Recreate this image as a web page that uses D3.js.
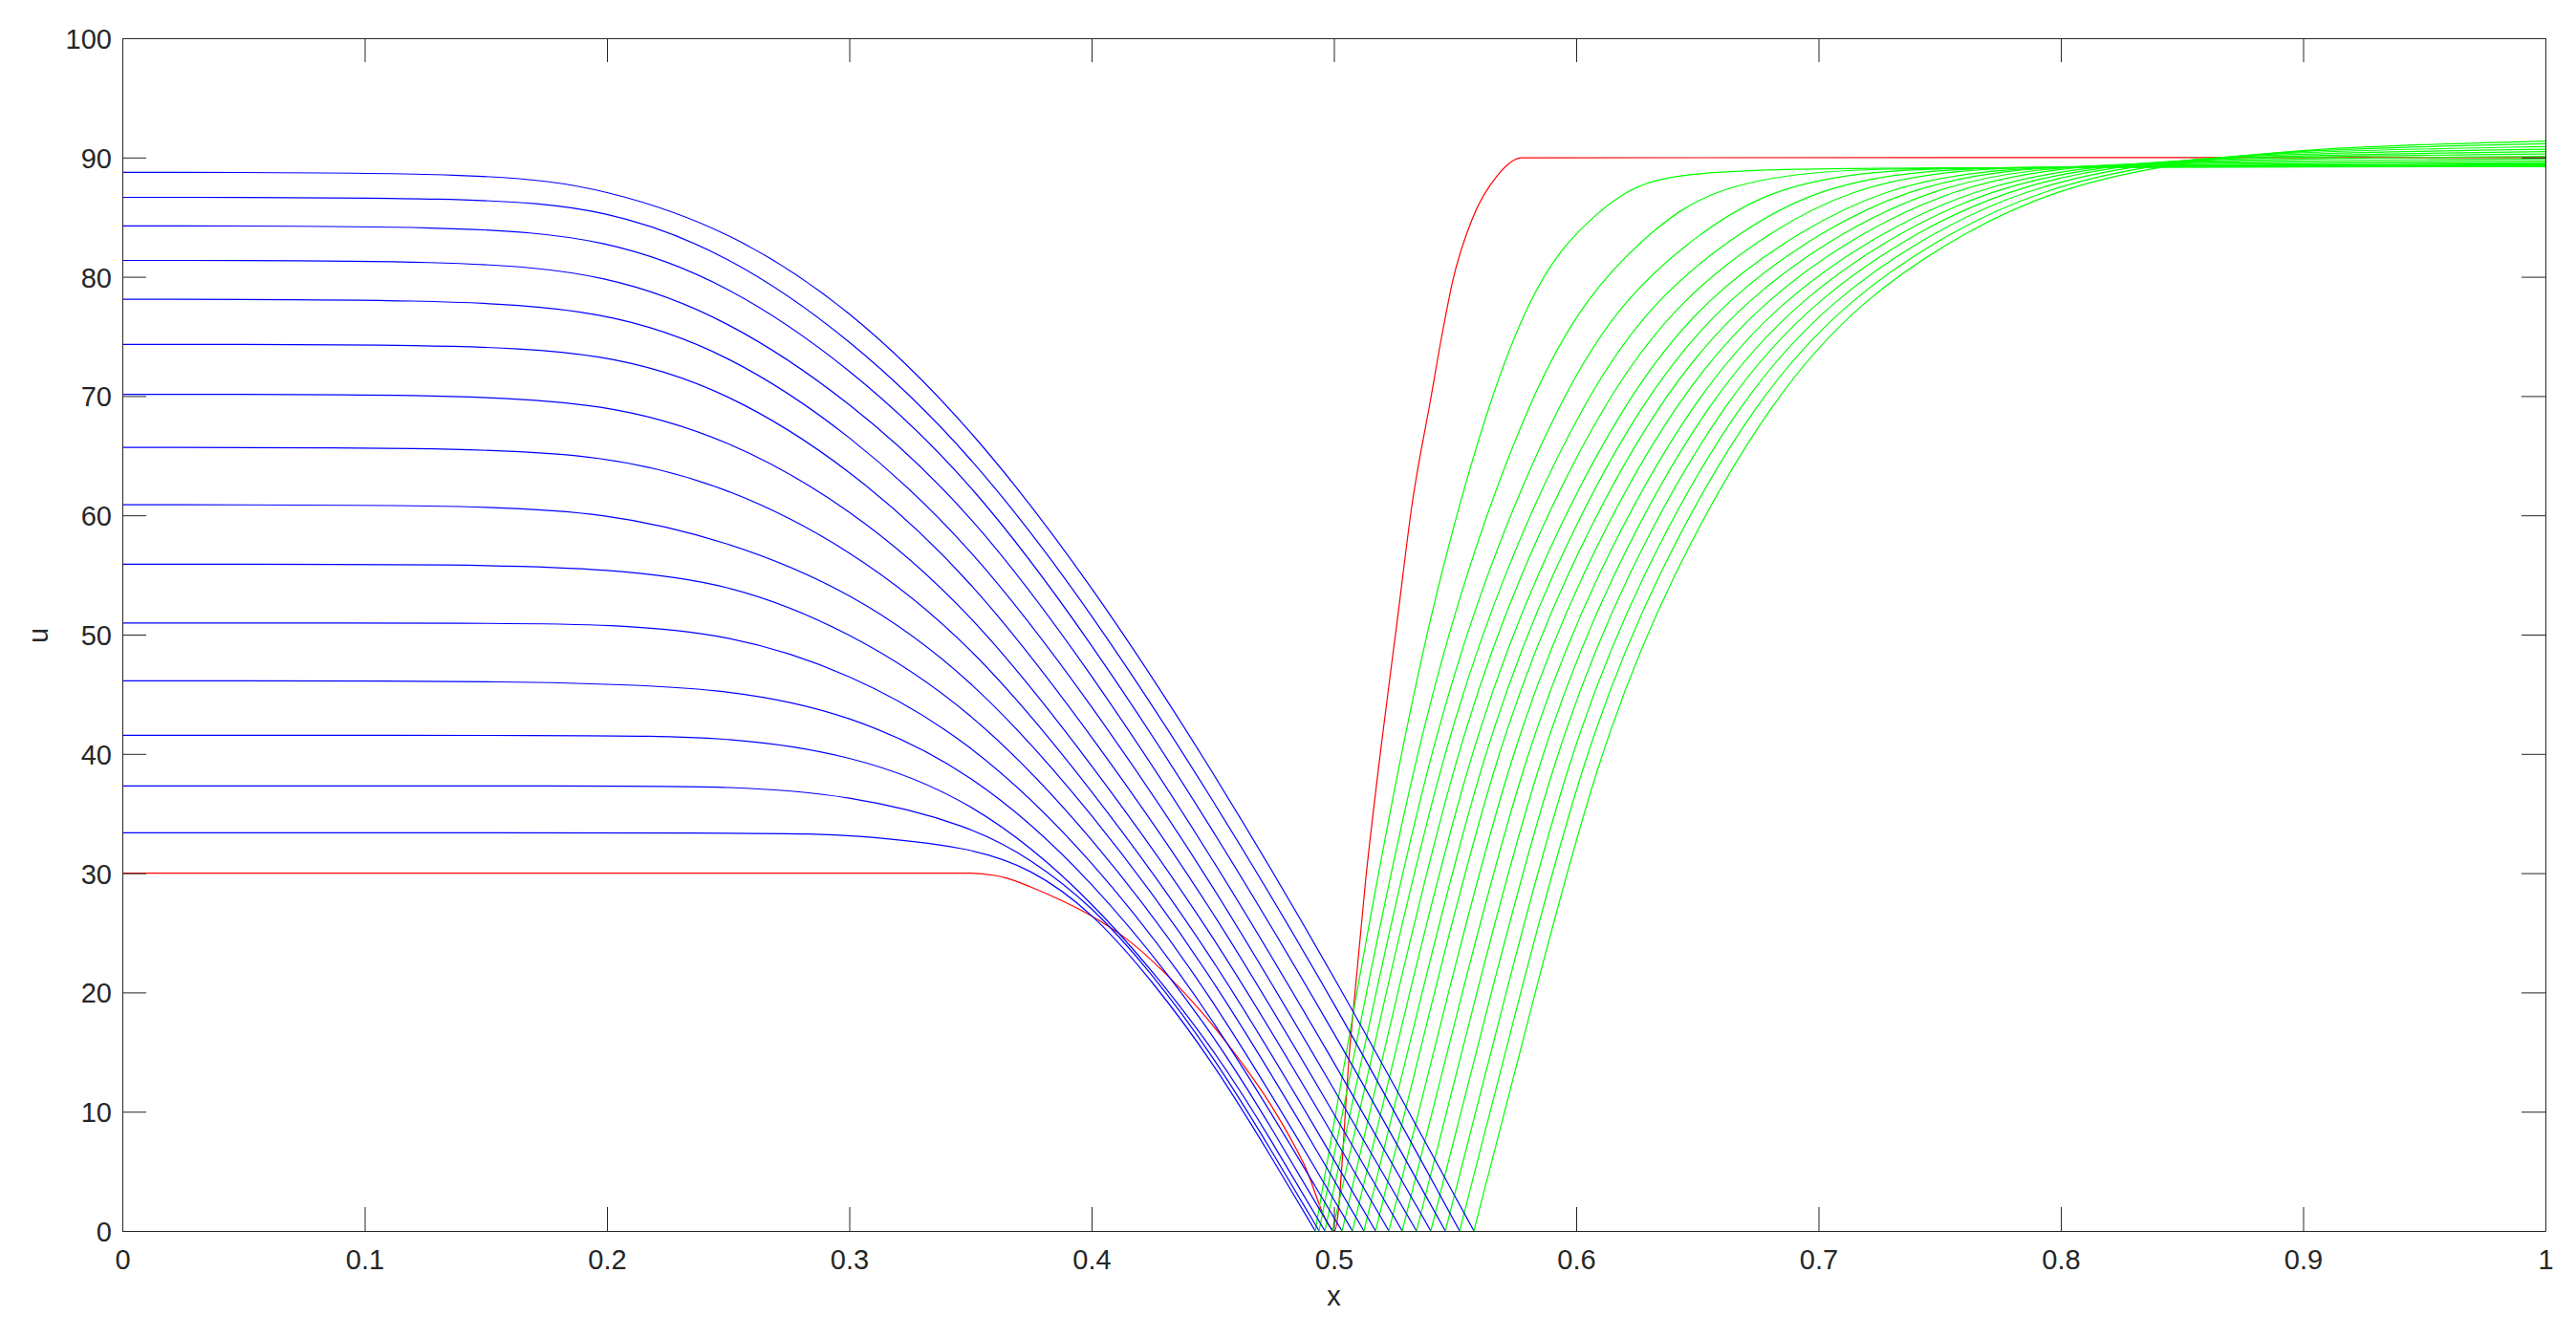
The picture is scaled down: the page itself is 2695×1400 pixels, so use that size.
<!DOCTYPE html>
<html><head><meta charset="utf-8">
<script src="https://cdn.jsdelivr.net/npm/d3@7"></script>
<style>
body{margin:0;background:#fff;}
svg{display:block;}
text{font-family:"Liberation Sans",Arial,Helvetica,sans-serif;}
</style>
</head><body>
<svg id="chart" width="2695" height="1400"></svg>
<script>
// ---- axis ticks ----
const xTicks = [0,0.1,0.2,0.3,0.4,0.5,0.6,0.7,0.8,0.9,1];
const xTickLabels = ["0","0.1","0.2","0.3","0.4","0.5","0.6","0.7","0.8","0.9","1"];
const yTicks = [0,10,20,30,40,50,60,70,80,90,100];
const yTickLabels = ["0","10","20","30","40","50","60","70","80","90","100"];
const xLabel = "x";
const yLabel = "u";

// ---- initial profile (red) ----
const redInitial = [[0,30],[0.350,30],[0.360,29.81],[0.365,29.58],[0.375,28.83],[0.3891,27.56],[0.4032,26.02],[0.4144,24.49],[0.4313,21.42],[0.4454,18.36],[0.4595,14.78],[0.4736,10.69],[0.4877,5.58],[0.499,0.2],[0.5003,0],[0.5067,15.65],[0.5131,29.41],[0.5196,40.76],[0.526,50.93],[0.5324,61.1],[0.5399,69.69],[0.5445,75.0],[0.5491,79.7],[0.557,84.8],[0.5675,88.5],[0.5774,89.98],[1,90]];

// ---- left phase (blue), time steps 1..15 ----
const blueT01 = [[0,33.39],[0.275,33.39],[0.30,33.22],[0.35,32.2],[0.375,30.4],[0.40,26.8],[0.425,21.0],[0.45,14.2],[0.475,5.95],[0.4923,0]];
const blueT02 = [[0,37.31],[0.20,37.31],[0.25,37.29],[0.30,36.6],[0.35,34.0],[0.375,31.2],[0.40,27.3],[0.425,21.6],[0.45,14.75],[0.475,6.5],[0.4939,0]];
const blueT03 = [[0,41.56],[0.19,41.56],[0.25,41.45],[0.30,40.0],[0.35,36.3],[0.40,28.1],[0.45,15.6],[0.475,7.3],[0.4963,0]];
const blueT04 = [[0,46.13],[0.17,46.13],[0.25,45.55],[0.30,43.35],[0.35,38.65],[0.40,29.7],[0.45,16.75],[0.475,8.37],[0.4994,0]];
const blueT05 = [[0,50.97],[0.16,50.97],[0.20,50.85],[0.25,50.1],[0.30,46.86],[0.35,41.15],[0.40,31.4],[0.45,18.2],[0.50,1.1],[0.5034,0]];
const blueT06 = [[0,55.90],[0.15,55.90],[0.20,55.5],[0.25,54.4],[0.30,50.35],[0.35,43.85],[0.40,33.25],[0.45,19.8],[0.50,2.6],[0.5077,0]];
const blueT07 = [[0,60.88],[0.14,60.88],[0.20,60.27],[0.25,57.85],[0.30,53.75],[0.35,46.6],[0.40,35.2],[0.45,21.5],[0.50,4.3],[0.5124,0]];
const blueT08 = [[0,65.69],[0.13,65.69],[0.20,65.12],[0.25,62.41],[0.30,57.3],[0.35,49.4],[0.40,37.1],[0.45,23.2],[0.50,6.0],[0.5172,0]];
const blueT09 = [[0,70.15],[0.13,70.15],[0.20,69.48],[0.25,66.44],[0.30,60.76],[0.35,52.1],[0.40,39.2],[0.45,25.1],[0.50,7.9],[0.5227,0]];
const blueT10 = [[0,74.33],[0.13,74.33],[0.20,73.71],[0.25,70.41],[0.30,64.05],[0.35,54.9],[0.40,41.6],[0.45,27.1],[0.50,9.85],[0.5282,0]];
const blueT11 = [[0,78.11],[0.13,78.11],[0.20,77.23],[0.25,73.62],[0.30,66.94],[0.35,57.6],[0.40,44.2],[0.45,29.2],[0.50,11.9],[0.5341,0]];
const blueT12 = [[0,81.37],[0.14,81.37],[0.20,80.29],[0.25,76.47],[0.30,69.67],[0.35,60.45],[0.40,46.8],[0.45,31.36],[0.50,14.2],[0.5400,0]];
const blueT13 = [[0,84.26],[0.14,84.26],[0.20,83.25],[0.25,79.43],[0.30,72.5],[0.35,63.05],[0.40,49.4],[0.45,33.78],[0.50,16.75],[0.5460,0]];
const blueT14 = [[0,86.66],[0.145,86.66],[0.20,85.74],[0.25,81.94],[0.30,74.96],[0.35,65.3],[0.40,51.94],[0.45,36.3],[0.50,19.3],[0.5519,0]];
const blueT15 = [[0,88.75],[0.155,88.75],[0.20,87.35],[0.25,83.98],[0.30,77.45],[0.35,67.5],[0.40,54.27],[0.45,38.66],[0.50,21.5],[0.5578,0]];

// ---- right phase (green), time steps 1..15 ----
const greenT01 = [[0.4923,0],[0.5093,20],[0.5275,40],[0.5435,55],[0.5645,70],[0.5812,78.37],[0.5938,82.37],[0.607,85.04],[0.619,87.0],[0.632,88.15],[0.65,88.7],[0.68,89.0],[0.73,89.15],[1,89.24]];
const greenT02 = [[0.4939,0],[0.5133,20],[0.5338,40],[0.5538,55],[0.5810,70],[0.6039,78.37],[0.6315,84],[0.6550,87.3],[0.695,88.93],[0.755,89.18],[1,89.28]];
const greenT03 = [[0.4963,0],[0.5173,20],[0.5393,40],[0.5621,55],[0.5935,70],[0.6199,78.37],[0.6528,84],[0.6801,87.3],[0.720,88.96],[0.780,89.22],[1,89.33]];
const greenT04 = [[0.4994,0],[0.5215,20],[0.5446,40],[0.5692,55],[0.6035,70],[0.6331,78.37],[0.6688,84],[0.6987,87.3],[0.739,88.99],[0.799,89.27],[1,89.39]];
const greenT05 = [[0.5034,0],[0.5263,20],[0.5500,40],[0.5758,55],[0.6120,70],[0.6440,78.37],[0.6813,84],[0.7129,87.3],[0.753,89.02],[0.813,89.33],[1,89.47]];
const greenT06 = [[0.5077,0],[0.5312,20],[0.5556,40],[0.5825,55],[0.6205,70],[0.6539,78.37],[0.6934,84],[0.7265,87.3],[0.767,89.05],[0.827,89.41],[1,89.57]];
const greenT07 = [[0.5124,0],[0.5363,20],[0.5611,40],[0.5886,55],[0.6275,70],[0.6626,78.37],[0.7024,84],[0.7364,87.3],[0.776,89.08],[0.836,89.53],[1,89.72]];
const greenT08 = [[0.5172,0],[0.5414,20],[0.5665,40],[0.5947,55],[0.6345,70],[0.6708,78.37],[0.7113,84],[0.7461,87.3],[0.786,89.11],[0.846,89.67],[1,89.90]];
const greenT09 = [[0.5227,0],[0.5472,20],[0.5725,40],[0.6010,55],[0.6415,70],[0.6787,78.37],[0.7197,84],[0.7551,87.3],[0.795,89.14],[0.855,89.83],[1,90.10]];
const greenT10 = [[0.5282,0],[0.5529,20],[0.5785,40],[0.6074,55],[0.6485,70],[0.6861,78.37],[0.7280,84],[0.7639,87.3],[0.804,89.17],[0.864,89.99],[1,90.30]];
const greenT11 = [[0.5341,0],[0.5589,20],[0.5846,40],[0.6137,55],[0.6550,70],[0.6932,78.37],[0.7350,84],[0.7711,87.3],[0.811,89.20],[0.871,90.14],[1,90.50]];
const greenT12 = [[0.5400,0],[0.5649,20],[0.5907,40],[0.6199,55],[0.6615,70],[0.7000,78.37],[0.7420,84],[0.7784,87.3],[0.818,89.23],[0.878,90.30],[1,90.70]];
const greenT13 = [[0.5460,0],[0.5710,20],[0.5968,40],[0.6262,55],[0.6680,70],[0.7068,78.37],[0.7489,84],[0.7854,87.3],[0.825,89.26],[0.885,90.48],[1,90.92]];
const greenT14 = [[0.5519,0],[0.5770,20],[0.6029,40],[0.6324,55],[0.6745,70],[0.7135,78.37],[0.7559,84],[0.7927,87.3],[0.833,89.29],[0.893,90.66],[1,91.15]];
const greenT15 = [[0.5578,0],[0.5830,20],[0.6090,40],[0.6387,55],[0.6810,70],[0.7190,78.37],[0.7620,84],[0.7980,87.3],[0.840,89.32],[0.900,90.83],[1,91.37]];

const blueSeries = [blueT01,blueT02,blueT03,blueT04,blueT05,blueT06,blueT07,blueT08,blueT09,blueT10,blueT11,blueT12,blueT13,blueT14,blueT15];
const greenSeries = [greenT01,greenT02,greenT03,greenT04,greenT05,greenT06,greenT07,greenT08,greenT09,greenT10,greenT11,greenT12,greenT13,greenT14,greenT15];

// ---- drawing ----
const W = 2695, H = 1400;
const plot = {left:128, right:2663, top:40, bottom:1288};
const axisColor = "#262626";
const fontSize = 29;

const svg = d3.select("#chart");
svg.append("rect").attr("width", W).attr("height", H).attr("fill", "#ffffff");

const x = d3.scaleLinear().domain([0,1]).range([plot.left, plot.right]);
const y = d3.scaleLinear().domain([0,100]).range([plot.bottom, plot.top]);

const lineRed = d3.line().x(d => x(d[0])).y(d => y(d[1])).curve(d3.curveMonotoneX);
const lineSmooth = d3.line().x(d => x(d[0])).y(d => y(d[1])).curve(d3.curveBasis);

const lines = svg.append("g").attr("fill","none").attr("stroke-width",1.2).attr("stroke-linejoin","round");
lines.append("path").datum(redInitial).attr("d", lineRed).attr("stroke", "#ff0000");
for (let i = 0; i < blueSeries.length; i++) {
  lines.append("path").datum(blueSeries[i]).attr("d", lineSmooth).attr("stroke", "#0000ff");
  lines.append("path").datum(greenSeries[i]).attr("d", lineSmooth).attr("stroke", "#00ff00");
}

function styleAxis(g) {
  g.select(".domain").attr("stroke", axisColor).attr("stroke-width", 1);
  g.selectAll(".tick line").attr("stroke", axisColor).attr("stroke-width", 1);
  g.selectAll("text").attr("fill", axisColor).attr("font-size", fontSize)
    .attr("font-family", "Liberation Sans, Arial, sans-serif");
}

const xAxisBottom = d3.axisBottom(x).tickValues(xTicks).tickFormat((d,i) => xTickLabels[i])
  .tickSizeInner(-25).tickSizeOuter(0).tickPadding(0);
const gxb = svg.append("g").attr("transform", `translate(0,${plot.bottom})`).call(xAxisBottom);
styleAxis(gxb);
gxb.selectAll("text").attr("y", 40).attr("dy", "0");

const xAxisTop = d3.axisTop(x).tickValues(xTicks).tickFormat("").tickSizeInner(-25).tickSizeOuter(0);
const gxt = svg.append("g").attr("transform", `translate(0,${plot.top})`).call(xAxisTop);
styleAxis(gxt);

const yAxisLeft = d3.axisLeft(y).tickValues(yTicks).tickFormat((d,i) => yTickLabels[i])
  .tickSizeInner(-25).tickSizeOuter(0).tickPadding(11);
const gyl = svg.append("g").attr("transform", `translate(${plot.left},0)`).call(yAxisLeft);
styleAxis(gyl);
gyl.selectAll("text").attr("x", -11).attr("dy", "0.36em");

const yAxisRight = d3.axisRight(y).tickValues(yTicks).tickFormat("").tickSizeInner(-25).tickSizeOuter(0);
const gyr = svg.append("g").attr("transform", `translate(${plot.right},0)`).call(yAxisRight);
styleAxis(gyr);

svg.append("text").attr("x", x(0.5)).attr("y", 1366).attr("text-anchor", "middle")
  .attr("font-size", fontSize).attr("fill", axisColor).text(xLabel);
svg.append("text").attr("transform", `translate(50,${(plot.top + plot.bottom)/2 + 1}) rotate(-90)`)
  .attr("text-anchor", "middle").attr("font-size", fontSize).attr("fill", axisColor).text(yLabel);
</script>
</body></html>
